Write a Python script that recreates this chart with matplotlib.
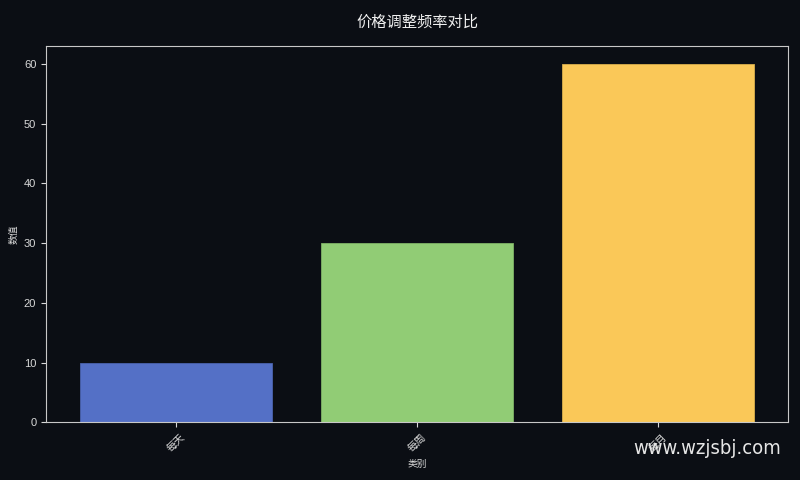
import matplotlib
matplotlib.use('Agg')
import matplotlib.pyplot as plt

plt.rcParams['font.family'] = ['Liberation Sans', 'Noto Sans CJK SC', 'DejaVu Sans']

categories = ['每天', '每周', '每月']
values = [10, 30, 60]
colors = ['#5470c6', '#91cc75', '#fac858']
edge_colors = ['#4a62ad', '#7fb266', '#d9ae4c']

bg = '#0b0e14'
fg = '#d8d8d8'

fig, ax = plt.subplots(figsize=(8, 4.8), dpi=100)
fig.patch.set_facecolor(bg)
ax.set_facecolor(bg)

ax.bar(categories, values, color=colors, width=0.8, edgecolor=edge_colors, linewidth=0.6)

ax.set_title('价格调整频率对比', color='#f0f0f0', fontsize=11, pad=14,
             family=['Noto Sans CJK SC'])
ax.set_xlabel('类别', color=fg, fontsize=7, family=['Noto Sans CJK SC'])
ax.set_ylabel('数值', color=fg, fontsize=7, family=['Noto Sans CJK SC'])
ax.tick_params(colors=fg, labelsize=8)
plt.setp(ax.get_xticklabels(), rotation=45, family=['Noto Sans CJK SC'], fontsize=7.5)
for s in ax.spines.values():
    s.set_color('#c8c8c8')

fig.subplots_adjust(left=0.0575, right=0.985, top=0.904, bottom=0.12)

fig.text(0.976, 0.065, 'www.wzjsbj.com', color='#e6e6e6', fontsize=14.5,
         ha='right', va='center', family=['DejaVu Sans'], fontstretch='condensed')

fig.savefig('out.png', facecolor=bg)
